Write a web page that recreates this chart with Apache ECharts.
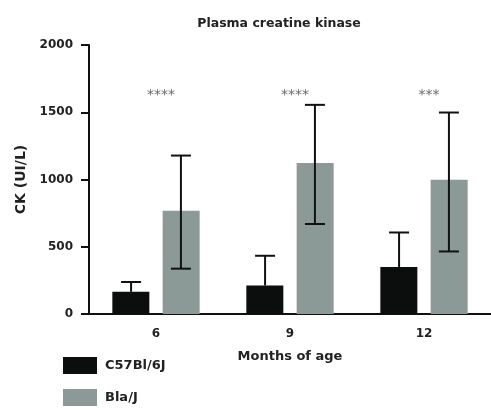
<!DOCTYPE html>
<html>
<head>
<meta charset="utf-8">
<script src="https://cdn.jsdelivr.net/npm/echarts@6/dist/echarts.min.js"></script>
<style>
  html, body { margin: 0; padding: 0; background: #fff; }
  #main { width: 491px; height: 408px; }
</style>
</head>
<body>
<div id="main"></div>
<script>
// data
const months = ['6', '9', '12'];
const c57Mean = [165, 212, 349];
const c57ErrTop = [238, 433, 606];
const blaMean = [767, 1122, 998];
const blaErrTop = [1178, 1555, 1498];
const blaErrBottom = [337, 669, 465];
const stars = ['****', '****', '***'];
const starLevel = [1640, 1640, 1640];
const yTicks = [0, 500, 1000, 1500, 2000];

const black = '#0c0e0d';
const grey = '#8b9997';
const font = 'DejaVu Sans';

// error bar drawn with the axis scales; side: -1 left bar, +1 right bar
function errorBars(top, bottom, side) {
    return {
        type: 'custom',
        silent: true,
        z: 5,
        renderItem: function (params, api) {
            const i = api.value(0);
            const band = api.size([1, 0])[0];
            const off = side * band * 0.186;
            const pTop = api.coord([i, api.value(1)]);
            const pBot = api.coord([i, api.value(2)]);
            const x = pTop[0] + off;
            const cap = 10;
            const st = { stroke: '#111', lineWidth: 2 };
            const kids = [
                { type: 'line', shape: { x1: x, y1: pTop[1], x2: x, y2: pBot[1] }, style: st },
                { type: 'line', shape: { x1: x - cap, y1: pTop[1], x2: x + cap, y2: pTop[1] }, style: st }
            ];
            if (bottom) {
                kids.push({ type: 'line', shape: { x1: x - cap, y1: pBot[1], x2: x + cap, y2: pBot[1] }, style: st });
            }
            return { type: 'group', children: kids };
        },
        data: top.map((t, i) => [i, t, bottom ? bottom[i] : (side < 0 ? c57Mean[i] : blaMean[i])])
    };
}

const chart = echarts.init(document.getElementById('main'));
chart.setOption({
    animation: false,
    title: {
        text: 'Plasma creatine kinase',
        left: 274,
        textAlign: 'center',
        top: 12,
        textStyle: { fontFamily: font, fontSize: 12.5, fontWeight: 'bold', color: '#222' }
    },
    legend: {
        orient: 'vertical',
        left: 63,
        top: 357,
        padding: 0,
        itemWidth: 34,
        itemHeight: 17,
        itemGap: 15,
        icon: 'rect',
        data: ['C57Bl/6J', 'Bla/J'],
        textStyle: { fontFamily: font, fontSize: 13, fontWeight: 'bold', color: '#222', padding: [0, 0, 0, 3] }
    },
    grid: { left: 89, right: -2, top: 45, bottom: 94 },
    xAxis: {
        type: 'category',
        data: months,
        name: 'Months of age',
        nameLocation: 'middle',
        nameGap: 36,
        nameTextStyle: { fontFamily: font, fontSize: 13, fontWeight: 'bold', color: '#222' },
        axisLine: { lineStyle: { color: '#111', width: 2 } },
        axisTick: { alignWithLabel: true, length: 5, lineStyle: { color: '#111', width: 2 } },
        axisLabel: { fontFamily: font, fontSize: 12, fontWeight: 'bold', color: '#222', margin: 14 }
    },
    yAxis: {
        type: 'value',
        min: yTicks[0],
        max: yTicks[yTicks.length - 1],
        interval: 500,
        name: 'CK (UI/L)',
        nameLocation: 'middle',
        nameGap: 61,
        nameTextStyle: { fontFamily: font, fontSize: 14, fontWeight: 'bold', color: '#222' },
        splitLine: { show: false },
        axisLine: { show: true, lineStyle: { color: '#111', width: 2 } },
        axisTick: { show: true, length: 8, lineStyle: { color: '#111', width: 2 } },
        axisLabel: {
            fontFamily: font, fontSize: 12, fontWeight: 'bold', color: '#222', margin: 16,
            formatter: v => String(v)
        }
    },
    series: [
        {
            name: 'C57Bl/6J',
            type: 'bar',
            barWidth: 37,
            barGap: '36%',
            itemStyle: { color: black },
            data: c57Mean
        },
        {
            name: 'Bla/J',
            type: 'bar',
            barWidth: 37,
            barGap: '36%',
            itemStyle: { color: grey },
            data: blaMean
        },
        errorBars(c57ErrTop, null, -1),
        errorBars(blaErrTop, blaErrBottom, 1),
        {
            type: 'scatter',
            symbolSize: 0,
            silent: true,
            label: {
                show: true,
                position: 'inside',
                offset: [5, 2],
                formatter: p => stars[p.dataIndex],
                fontFamily: font,
                fontSize: 14,
                color: '#444'
            },
            data: starLevel.map((v, i) => [i, v])
        }
    ]
});
</script>
</body>
</html>
